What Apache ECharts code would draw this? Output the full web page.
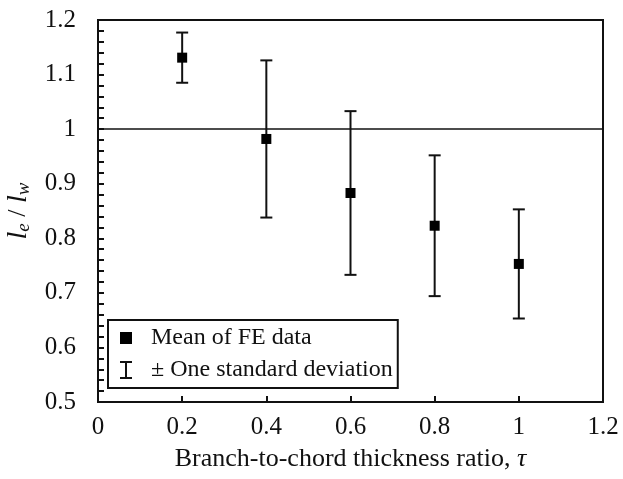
<!DOCTYPE html>
<html>
<head>
<meta charset="utf-8">
<script src="https://cdn.jsdelivr.net/npm/echarts@6/dist/echarts.min.js"></script>
<style>html,body{margin:0;padding:0;background:#fff}#c{width:623px;height:479px}</style>
</head>
<body>
<div id="c"></div>
<script>
// Data
const tau = [0.2, 0.4, 0.6, 0.8, 1.0];
const meanFE = [1.131, 0.982, 0.883, 0.823, 0.753];
const stdDev = [0.046, 0.144, 0.150, 0.129, 0.100];
const xTicks = [0, 0.2, 0.4, 0.6, 0.8, 1, 1.2];
const yTicks = [0.5, 0.6, 0.7, 0.8, 0.9, 1, 1.1, 1.2];
const refLine = 1;

const FONT = '"Liberation Serif", "Times New Roman", serif';
const INK = '#111';

const chart = echarts.init(document.getElementById('c'), null, {renderer: 'canvas'});

const meanData = tau.map((t, i) => [t, meanFE[i]]);
const errData = tau.map((t, i) => [t, meanFE[i] - stdDev[i], meanFE[i] + stdDev[i]]);

chart.setOption({
  animation: false,
  backgroundColor: '#fff',
  grid: {left: 98, right: 20, top: 20, bottom: 77, show: true, borderColor: INK, borderWidth: 2,
    containLabel: false, outerBoundsMode: 'none'},
  xAxis: {
    type: 'value', min: xTicks[0], max: xTicks[xTicks.length - 1], interval: 0.2,
    axisLine: {show: true, lineStyle: {color: INK, width: 2}},
    axisTick: {show: true, inside: true, length: 6, lineStyle: {color: INK, width: 2}},
    splitLine: {show: false},
    axisLabel: {color: INK, fontFamily: FONT, fontSize: 25, margin: 13},
    name: '{t|Branch-to-chord thickness ratio, }{i|τ}',
    nameLocation: 'middle', nameGap: 44,
    nameTextStyle: {rich: {
      t: {color: INK, fontFamily: FONT, fontSize: 26},
      i: {color: INK, fontFamily: FONT, fontSize: 26, fontStyle: 'italic'}
    }}
  },
  yAxis: {
    type: 'value', min: yTicks[0], max: yTicks[yTicks.length - 1], interval: 0.1,
    axisLine: {show: true, lineStyle: {color: INK, width: 2}},
    axisTick: {show: true, inside: true, length: 6, lineStyle: {color: INK, width: 2}},
    minorTick: {show: true, splitNumber: 5, length: 6, lineStyle: {color: INK, width: 2}},
    splitLine: {show: false},
    axisLabel: {color: INK, fontFamily: FONT, fontSize: 25, margin: 22,
      formatter: v => String(Math.round(v * 10) / 10)},
    name: '{i|l}{s|e}{t| / }{i|l}{s|w}',
    nameLocation: 'middle', nameRotate: 90, nameGap: 60,
    nameTextStyle: {rich: {
      i: {color: INK, fontFamily: FONT, fontSize: 28, fontStyle: 'italic'},
      t: {color: INK, fontFamily: FONT, fontSize: 26},
      s: {color: INK, fontFamily: FONT, fontSize: 19, fontStyle: 'italic', padding: [12, 0, 0, 0]}
    }}
  },
  legend: {
    orient: 'vertical', left: 108, top: 320,
    borderColor: INK, borderWidth: 2, borderRadius: 0,
    padding: [6, 5, 6, 12], itemGap: 8,
    itemWidth: 12, itemHeight: 18,
    itemStyle: {opacity: 1},
    textStyle: {color: INK, fontFamily: FONT, fontSize: 24, padding: [0, 0, 0, 14]},
    data: [
      {name: 'Mean of FE data', icon: 'path://M2,5h8v8h-8z'},
      {name: '± One standard deviation', icon: 'path://M0,0h12v2h-5v14h5v2h-12v-2h5v-14h-5z'}
    ]
  },
  series: [
    {
      name: '± One standard deviation',
      type: 'custom',
      itemStyle: {color: INK, opacity: 1},
      data: errData,
      encode: {x: 0, y: [1, 2]},
      renderItem: function (params, api) {
        const x = api.value(0);
        const lo = api.coord([x, api.value(1)]);
        const hi = api.coord([x, api.value(2)]);
        const cap = 6;
        const st = {stroke: INK, lineWidth: 2};
        return {type: 'group', children: [
          {type: 'line', shape: {x1: lo[0], y1: lo[1], x2: hi[0], y2: hi[1]}, style: st},
          {type: 'line', shape: {x1: lo[0] - cap, y1: lo[1], x2: lo[0] + cap, y2: lo[1]}, style: st},
          {type: 'line', shape: {x1: hi[0] - cap, y1: hi[1], x2: hi[0] + cap, y2: hi[1]}, style: st}
        ]};
      },
      z: 2
    },
    {
      name: 'Mean of FE data',
      type: 'scatter',
      symbol: 'rect', symbolSize: 10,
      itemStyle: {color: '#000', opacity: 1},
      data: meanData,
      z: 3,
      markLine: {
        silent: true, symbol: ['none', 'none'],
        label: {show: false},
        lineStyle: {color: INK, width: 1.5, type: 'solid'},
        data: [{yAxis: refLine}]
      }
    }
  ]
});
</script>
</body>
</html>
